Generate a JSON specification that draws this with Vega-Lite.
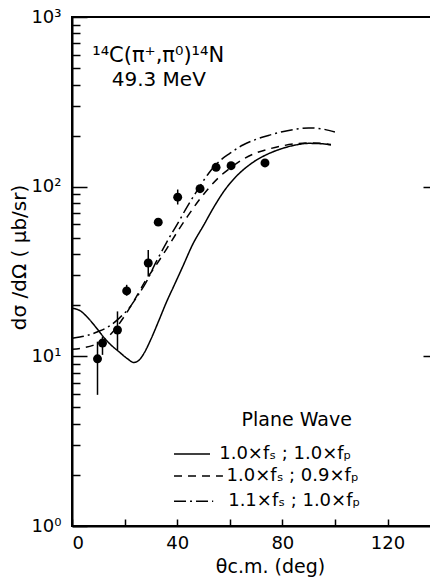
{
  "$schema": "https://vega.github.io/schema/vega-lite/v6.json",
  "width": 366,
  "height": 509,
  "autosize": {"type": "none"},
  "padding": {"left": 72, "top": 17, "right": 0, "bottom": 51},
  "background": "white",
  "config": {
    "view": {"stroke": "black", "strokeWidth": 2},
    "font": "DejaVu Sans",
    "axis": {"grid": false, "domainColor": "black", "domainWidth": 2, "tickColor": "black", "labelColor": "black", "titleColor": "black", "labelFont": "DejaVu Sans", "titleFont": "DejaVu Sans", "titleFontWeight": "normal"}
  },
  "datasets": {
    "curves": [
      {"model": "1.0×fₛ ; 1.0×fₚ", "theta": 0, "xs": 19.2},
      {"model": "1.0×fₛ ; 1.0×fₚ", "theta": 3, "xs": 18.6},
      {"model": "1.0×fₛ ; 1.0×fₚ", "theta": 6, "xs": 16.9},
      {"model": "1.0×fₛ ; 1.0×fₚ", "theta": 9, "xs": 14.9},
      {"model": "1.0×fₛ ; 1.0×fₚ", "theta": 12, "xs": 13.0},
      {"model": "1.0×fₛ ; 1.0×fₚ", "theta": 15, "xs": 11.6},
      {"model": "1.0×fₛ ; 1.0×fₚ", "theta": 18, "xs": 10.6},
      {"model": "1.0×fₛ ; 1.0×fₚ", "theta": 21, "xs": 9.7},
      {"model": "1.0×fₛ ; 1.0×fₚ", "theta": 23.5, "xs": 9.2},
      {"model": "1.0×fₛ ; 1.0×fₚ", "theta": 25.5, "xs": 9.5},
      {"model": "1.0×fₛ ; 1.0×fₚ", "theta": 27.5, "xs": 10.5},
      {"model": "1.0×fₛ ; 1.0×fₚ", "theta": 30, "xs": 12.6},
      {"model": "1.0×fₛ ; 1.0×fₚ", "theta": 33, "xs": 16.2},
      {"model": "1.0×fₛ ; 1.0×fₚ", "theta": 36, "xs": 21},
      {"model": "1.0×fₛ ; 1.0×fₚ", "theta": 39, "xs": 26.5},
      {"model": "1.0×fₛ ; 1.0×fₚ", "theta": 42, "xs": 33.5},
      {"model": "1.0×fₛ ; 1.0×fₚ", "theta": 46, "xs": 46},
      {"model": "1.0×fₛ ; 1.0×fₚ", "theta": 50, "xs": 59},
      {"model": "1.0×fₛ ; 1.0×fₚ", "theta": 54, "xs": 76},
      {"model": "1.0×fₛ ; 1.0×fₚ", "theta": 58, "xs": 95},
      {"model": "1.0×fₛ ; 1.0×fₚ", "theta": 62, "xs": 113},
      {"model": "1.0×fₛ ; 1.0×fₚ", "theta": 66, "xs": 129},
      {"model": "1.0×fₛ ; 1.0×fₚ", "theta": 70, "xs": 143},
      {"model": "1.0×fₛ ; 1.0×fₚ", "theta": 75, "xs": 157},
      {"model": "1.0×fₛ ; 1.0×fₚ", "theta": 80, "xs": 168},
      {"model": "1.0×fₛ ; 1.0×fₚ", "theta": 85, "xs": 176},
      {"model": "1.0×fₛ ; 1.0×fₚ", "theta": 90, "xs": 180},
      {"model": "1.0×fₛ ; 1.0×fₚ", "theta": 95, "xs": 179},
      {"model": "1.0×fₛ ; 1.0×fₚ", "theta": 98.5, "xs": 176},
      {"model": "1.0×fₛ ; 0.9×fₚ", "theta": 0, "xs": 11.0},
      {"model": "1.0×fₛ ; 0.9×fₚ", "theta": 4, "xs": 11.2},
      {"model": "1.0×fₛ ; 0.9×fₚ", "theta": 8, "xs": 11.6},
      {"model": "1.0×fₛ ; 0.9×fₚ", "theta": 12, "xs": 12.4},
      {"model": "1.0×fₛ ; 0.9×fₚ", "theta": 16, "xs": 14.2},
      {"model": "1.0×fₛ ; 0.9×fₚ", "theta": 20, "xs": 17.3},
      {"model": "1.0×fₛ ; 0.9×fₚ", "theta": 24, "xs": 21.8},
      {"model": "1.0×fₛ ; 0.9×fₚ", "theta": 28, "xs": 28},
      {"model": "1.0×fₛ ; 0.9×fₚ", "theta": 32, "xs": 34.5},
      {"model": "1.0×fₛ ; 0.9×fₚ", "theta": 36, "xs": 43},
      {"model": "1.0×fₛ ; 0.9×fₚ", "theta": 40, "xs": 54},
      {"model": "1.0×fₛ ; 0.9×fₚ", "theta": 44, "xs": 67},
      {"model": "1.0×fₛ ; 0.9×fₚ", "theta": 48, "xs": 82},
      {"model": "1.0×fₛ ; 0.9×fₚ", "theta": 52, "xs": 98},
      {"model": "1.0×fₛ ; 0.9×fₚ", "theta": 56, "xs": 114},
      {"model": "1.0×fₛ ; 0.9×fₚ", "theta": 60, "xs": 128},
      {"model": "1.0×fₛ ; 0.9×fₚ", "theta": 65, "xs": 145},
      {"model": "1.0×fₛ ; 0.9×fₚ", "theta": 70, "xs": 158},
      {"model": "1.0×fₛ ; 0.9×fₚ", "theta": 75, "xs": 167},
      {"model": "1.0×fₛ ; 0.9×fₚ", "theta": 80, "xs": 174},
      {"model": "1.0×fₛ ; 0.9×fₚ", "theta": 85, "xs": 179},
      {"model": "1.0×fₛ ; 0.9×fₚ", "theta": 90, "xs": 181},
      {"model": "1.0×fₛ ; 0.9×fₚ", "theta": 95, "xs": 180},
      {"model": "1.0×fₛ ; 0.9×fₚ", "theta": 98.5, "xs": 177},
      {"model": "1.1×fₛ ; 1.0×fₚ", "theta": 0, "xs": 12.8},
      {"model": "1.1×fₛ ; 1.0×fₚ", "theta": 3, "xs": 13.0},
      {"model": "1.1×fₛ ; 1.0×fₚ", "theta": 6, "xs": 13.3},
      {"model": "1.1×fₛ ; 1.0×fₚ", "theta": 10, "xs": 14.0},
      {"model": "1.1×fₛ ; 1.0×fₚ", "theta": 14, "xs": 15.0},
      {"model": "1.1×fₛ ; 1.0×fₚ", "theta": 18, "xs": 16.8},
      {"model": "1.1×fₛ ; 1.0×fₚ", "theta": 22, "xs": 19.5},
      {"model": "1.1×fₛ ; 1.0×fₚ", "theta": 25, "xs": 22.8},
      {"model": "1.1×fₛ ; 1.0×fₚ", "theta": 28, "xs": 27},
      {"model": "1.1×fₛ ; 1.0×fₚ", "theta": 32, "xs": 36},
      {"model": "1.1×fₛ ; 1.0×fₚ", "theta": 36, "xs": 47},
      {"model": "1.1×fₛ ; 1.0×fₚ", "theta": 40, "xs": 60},
      {"model": "1.1×fₛ ; 1.0×fₚ", "theta": 44, "xs": 77},
      {"model": "1.1×fₛ ; 1.0×fₚ", "theta": 48, "xs": 97},
      {"model": "1.1×fₛ ; 1.0×fₚ", "theta": 52, "xs": 120},
      {"model": "1.1×fₛ ; 1.0×fₚ", "theta": 56, "xs": 141},
      {"model": "1.1×fₛ ; 1.0×fₚ", "theta": 60, "xs": 157},
      {"model": "1.1×fₛ ; 1.0×fₚ", "theta": 65, "xs": 176},
      {"model": "1.1×fₛ ; 1.0×fₚ", "theta": 70, "xs": 190},
      {"model": "1.1×fₛ ; 1.0×fₚ", "theta": 75, "xs": 201},
      {"model": "1.1×fₛ ; 1.0×fₚ", "theta": 80, "xs": 211},
      {"model": "1.1×fₛ ; 1.0×fₚ", "theta": 85, "xs": 218},
      {"model": "1.1×fₛ ; 1.0×fₚ", "theta": 90, "xs": 222},
      {"model": "1.1×fₛ ; 1.0×fₚ", "theta": 95, "xs": 219},
      {"model": "1.1×fₛ ; 1.0×fₚ", "theta": 100, "xs": 210}
    ],
    "points": [
      {"theta": 9.7, "xs": 9.67, "lo": 5.93, "hi": 12.2},
      {"theta": 11.6, "xs": 11.97, "lo": 10.2, "hi": 13.1},
      {"theta": 17.3, "xs": 14.3, "lo": 10.9, "hi": 18.4},
      {"theta": 20.8, "xs": 24.3, "lo": 22.8, "hi": 26.4},
      {"theta": 29.0, "xs": 35.5, "lo": 29.5, "hi": 42.4},
      {"theta": 32.8, "xs": 61.8},
      {"theta": 40.2, "xs": 86.7, "lo": 78.5, "hi": 96.2},
      {"theta": 48.7, "xs": 97.3},
      {"theta": 54.8, "xs": 130},
      {"theta": 60.5, "xs": 133},
      {"theta": 73.4, "xs": 138}
    ]
  },
  "layer": [
    {
      "data": {"name": "curves"},
      "mark": {"type": "line", "color": "black", "strokeWidth": 1.5, "interpolate": "monotone"},
      "encoding": {
        "x": {"field": "theta", "type": "quantitative", "scale": {"domain": [0, 139.2], "nice": false, "zero": false},
          "axis": {"values": [0, 20, 40, 60, 80, 100, 120], "labelExpr": "datum.value % 40 == 0 ? datum.label : ''", "ticks": true, "tickColor": "black", "zindex": 1, "tickSize": -7, "tickWidth": 1.5, "labelFontSize": 18, "labelPadding": 15, "title": "θc.m. (deg)", "titleFontSize": 19, "titlePadding": 5, "titleX": 198}},
        "y": {"field": "xs", "type": "quantitative", "scale": {"type": "log", "domain": [1, 1000], "nice": false},
          "axis": {"orient": "left",
            "values": [1, 2, 3, 4, 5, 6, 7, 8, 9, 10, 20, 30, 40, 50, 60, 70, 80, 90, 100, 200, 300, 400, 500, 600, 700, 800, 900, 1000],
            "labelExpr": "datum.value == 1 ? '10⁰' : datum.value == 10 ? '10¹' : datum.value == 100 ? '10²' : datum.value == 1000 ? '10³' : ''",
            "ticks": true, "tickColor": "black", "zindex": 1,
            "tickSize": {"condition": {"test": "datum.value == 1 || datum.value == 10 || datum.value == 100 || datum.value == 1000", "value": -15}, "value": -8},
            "tickWidth": 1.5, "labelFontSize": 18, "labelPadding": 26, "title": "dσ /dΩ  ( μb/sr)", "titleFontSize": 20, "titlePadding": 1, "titleY": 240}},
        "strokeDash": {"field": "model", "type": "nominal",
          "scale": {"domain": ["1.0×fₛ ; 1.0×fₚ", "1.0×fₛ ; 0.9×fₚ", "1.1×fₛ ; 1.0×fₚ"], "range": [[1, 0], [8, 6], [12, 4, 2, 4]]},
          "legend": null}
      }
    },
    {
      "data": {"name": "points"},
      "transform": [{"filter": "isValid(datum.lo)"}],
      "mark": {"type": "rule", "color": "black", "strokeWidth": 1.5},
      "encoding": {
        "x": {"field": "theta", "type": "quantitative"},
        "y": {"field": "lo", "type": "quantitative", "axis": null},
        "y2": {"field": "hi"}
      }
    },
    {
      "data": {"name": "points"},
      "mark": {"type": "point", "filled": true, "color": "black", "size": 80, "opacity": 1},
      "encoding": {
        "x": {"field": "theta", "type": "quantitative"},
        "y": {"field": "xs", "type": "quantitative",
          "axis": {"orient": "right", "values": [10, 100], "labels": false, "tickSize": -15, "tickWidth": 1.5, "zindex": 1, "title": null, "domain": false}}
      }
    },
    {
      "data": {"values": [{}]},
      "mark": {"type": "rule", "color": "black", "strokeWidth": 1.5},
      "encoding": {
        "x": {"datum": 38.8, "type": "quantitative"},
        "x2": {"datum": 52.5},
        "y": {"datum": 2.66, "type": "quantitative", "axis": null}
      }
    },
    {
      "data": {"values": [{}]},
      "mark": {"type": "rule", "color": "black", "strokeWidth": 1.5, "strokeDash": [8, 6]},
      "encoding": {
        "x": {"datum": 38.8, "type": "quantitative"},
        "x2": {"datum": 57.4},
        "y": {"datum": 1.97, "type": "quantitative", "axis": null}
      }
    },
    {
      "data": {"values": [{}]},
      "mark": {"type": "rule", "color": "black", "strokeWidth": 1.5, "strokeDash": [12, 4, 2, 4]},
      "encoding": {
        "x": {"datum": 38.8, "type": "quantitative"},
        "x2": {"datum": 53.7},
        "y": {"datum": 1.40, "type": "quantitative", "axis": null}
      }
    },
    {
      "data": {"values": [{}]},
      "mark": {"type": "text", "align": "left", "baseline": "middle", "fontSize": 18, "color": "black"},
      "encoding": {
        "x": {"datum": 56.0, "type": "quantitative"},
        "y": {"datum": 2.66, "type": "quantitative", "axis": null},
        "text": {"value": "1.0×fₛ ; 1.0×fₚ"}
      }
    },
    {
      "data": {"values": [{}]},
      "mark": {"type": "text", "align": "left", "baseline": "middle", "fontSize": 18, "color": "black"},
      "encoding": {
        "x": {"datum": 58.8, "type": "quantitative"},
        "y": {"datum": 1.97, "type": "quantitative", "axis": null},
        "text": {"value": "1.0×fₛ ; 0.9×fₚ"}
      }
    },
    {
      "data": {"values": [{}]},
      "mark": {"type": "text", "align": "left", "baseline": "middle", "fontSize": 18, "color": "black"},
      "encoding": {
        "x": {"datum": 59.4, "type": "quantitative"},
        "y": {"datum": 1.40, "type": "quantitative", "axis": null},
        "text": {"value": "1.1×fₛ ; 1.0×fₚ"}
      }
    },
    {
      "data": {"values": [{}]},
      "mark": {"type": "text", "align": "left", "baseline": "alphabetic", "fontSize": 21, "color": "black"},
      "encoding": {
        "x": {"datum": 7.7, "type": "quantitative"},
        "y": {"datum": 546, "type": "quantitative", "axis": null},
        "text": {"value": "¹⁴C(π⁺,π⁰)¹⁴N"}
      }
    },
    {
      "data": {"values": [{}]},
      "mark": {"type": "text", "align": "left", "baseline": "alphabetic", "fontSize": 20, "color": "black"},
      "encoding": {
        "x": {"datum": 15.1, "type": "quantitative"},
        "y": {"datum": 394, "type": "quantitative", "axis": null},
        "text": {"value": "49.3 MeV"}
      }
    },
    {
      "data": {"values": [{}]},
      "mark": {"type": "text", "align": "left", "baseline": "alphabetic", "fontSize": 19, "color": "black"},
      "encoding": {
        "x": {"datum": 64.5, "type": "quantitative"},
        "y": {"datum": 3.88, "type": "quantitative", "axis": null},
        "text": {"value": "Plane Wave"}
      }
    }
  ],
  "resolve": {"axis": {"y": "independent"}}
}
